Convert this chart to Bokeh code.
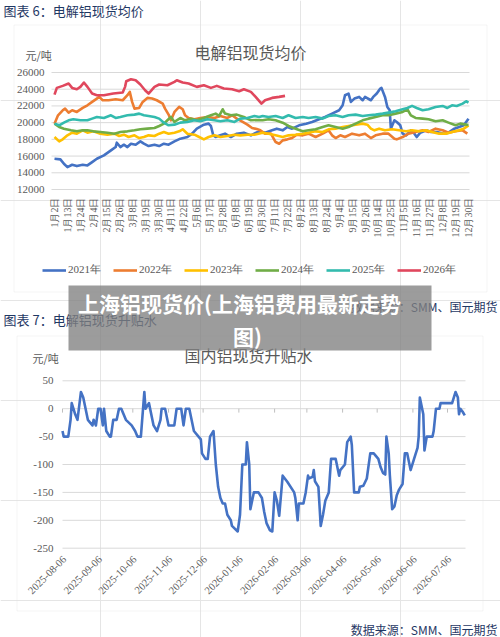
import math
from datetime import date
from bokeh.plotting import figure
from bokeh.models import Label, BoxAnnotation, Legend, LegendItem, Range1d
from bokeh.embed import file_html
from bokeh.resources import INLINE
from bokeh.core.properties import value

SERIF = "Liberation Serif"
CJK = "Noto Sans CJK SC"
GREY = "#595959"
NAVY = "#1F3864"
GRID = "#d9d9d9"

# ---------------- chart 1: 电解铝现货均价 (x = trading-day index within year) ----------------
tick_labels_1 = ["1月2日", "1月13日", "1月24日", "2月4日", "2月15日", "2月26日", "3月8日", "3月19日",
                 "3月30日", "4月11日", "4月22日", "5月6日", "5月17日", "5月28日", "6月8日", "6月19日",
                 "6月30日", "7月11日", "7月22日", "8月2日", "8月13日", "8月24日", "9月4日", "9月15日",
                 "9月26日", "10月14日", "10月25日", "11月5日", "11月16日", "11月27日", "12月8日",
                 "12月19日", "12月30日"]
tick_step_1 = 11
years = ["2021年", "2022年", "2023年", "2024年", "2025年", "2026年"]
colors = ["#4472C4", "#ED7D31", "#FFC000", "#70AD47", "#33BBAE", "#E0475D"]

x2021 = [0, 5, 8, 11, 15, 19, 24, 28, 32, 36, 42, 48, 52, 53, 56, 59, 62, 65, 69, 73, 76, 80, 85, 89,
         93, 97, 102, 107, 113, 117, 121, 127, 131, 133, 135, 137, 141, 145, 150, 155, 161, 167, 172,
         179, 185, 189, 194, 198, 202, 208, 214, 219, 225, 230, 236, 242, 245, 247, 250, 252, 255, 259,
         262, 264, 269, 271, 274, 277, 278, 281, 283, 285, 286, 289, 291, 294, 296, 299, 303, 306, 308,
         311, 316, 320, 325, 331, 335, 340, 344, 348, 352]
y2021 = [15680, 15600, 15080, 14680, 14960, 14800, 14960, 14880, 15280, 15680, 16080, 16680, 17080,
         17600, 17080, 17360, 17080, 17480, 17360, 17760, 17480, 17200, 17360, 17200, 17480, 17360,
         17760, 18080, 18280, 18680, 19280, 19760, 19880, 19600, 18480, 18280, 18480, 18680, 18280,
         18680, 18800, 18480, 18840, 18800, 19080, 19280, 19080, 19480, 19280, 19680, 19880, 20080,
         20400, 20680, 21080, 21480, 22080, 23280, 23480, 22480, 22880, 23080, 22680, 23080, 22680,
         23080, 23480, 24080, 24160, 23080, 21880, 21480, 19280, 20280, 20080, 19680, 18680, 18480,
         19080, 18680, 18280, 18800, 19080, 18880, 18880, 18680, 18800, 19280, 19480, 19680, 20480]

x2022 = [0, 3, 7, 9, 12, 15, 19, 24, 28, 32, 36, 38, 41, 46, 52, 58, 62, 64, 66, 68, 72, 75, 79, 83,
         87, 92, 94, 97, 99, 102, 106, 109, 111, 114, 119, 124, 130, 136, 141, 147, 151, 155, 160, 164,
         168, 172, 175, 179, 184, 188, 191, 194, 198, 202, 206, 211, 216, 222, 228, 233, 236, 239, 243,
         247, 253, 259, 264, 269, 273, 279, 284, 289, 291, 296, 301, 307, 313, 318, 324, 330, 335, 341,
         347, 351]
y2022 = [19880, 20880, 21480, 21680, 21200, 21480, 21280, 21760, 22080, 22480, 22880, 23080, 22680,
         22680, 22800, 22680, 23280, 23680, 22480, 21680, 21760, 22480, 22960, 22880, 22680, 22280,
         21680, 20960, 20280, 21280, 21880, 21600, 20880, 20560, 20400, 20560, 20680, 20560, 20800,
         20560, 20880, 20480, 20080, 19760, 19360, 19240, 19080, 18680, 18680, 17680, 17480, 17880,
         18000, 18160, 18560, 18480, 18680, 18280, 18680, 19080, 18480, 18160, 18480, 18280, 18680,
         18480, 18680, 18160, 18480, 18680, 18680, 18080, 18000, 18280, 18680, 18880, 19080, 18880,
         19280, 19080, 18800, 18960, 19080, 18680]

x2023 = [0, 4, 7, 11, 15, 19, 24, 28, 33, 39, 45, 51, 55, 59, 63, 68, 72, 76, 80, 85, 89, 93, 97, 102,
         106, 109, 113, 119, 123, 127, 131, 136, 141, 147, 153, 158, 164, 170, 177, 182, 188, 194, 199,
         205, 211, 216, 222, 228, 233, 239, 245, 250, 256, 262, 266, 269, 272, 276, 281, 287, 293, 299,
         304, 310, 316, 321, 327, 333, 338, 344, 348, 352]
y2023 = [18280, 17760, 18000, 18480, 18800, 18680, 19080, 18800, 18960, 18680, 18560, 18680, 18400,
         18560, 18280, 18480, 18160, 18280, 18480, 18400, 18680, 18880, 18680, 18800, 18960, 19200,
         18680, 18560, 18280, 18000, 18280, 18480, 18280, 18400, 18560, 18480, 18560, 18560, 18800,
         18680, 18480, 18280, 18480, 18560, 18680, 18800, 18960, 18880, 19200, 19280, 19480, 19600,
         19760, 19880, 19760, 19280, 19080, 19280, 19080, 19200, 19080, 18960, 19080, 18960, 19080,
         18880, 18680, 18680, 18880, 19080, 19280, 19680]

x2024 = [0, 4, 8, 14, 19, 24, 28, 33, 39, 45, 51, 56, 62, 68, 73, 79, 85, 89, 93, 96, 99, 102, 104,
         107, 111, 116, 121, 127, 133, 137, 140, 143, 145, 150, 155, 161, 167, 172, 177, 182, 188, 194,
         199, 205, 211, 216, 222, 228, 233, 239, 245, 250, 256, 262, 267, 273, 279, 284, 290, 296, 300,
         303, 307, 313, 318, 324, 330, 335, 341, 345, 350, 352]
y2024 = [19880, 19480, 19280, 19080, 18960, 19080, 19080, 18960, 18880, 18800, 18680, 18880, 18960,
         19080, 19200, 19280, 19360, 19600, 19880, 20280, 20680, 20080, 20280, 20560, 20280, 20480,
         20280, 20560, 20880, 21080, 20800, 21600, 21080, 20880, 20960, 20680, 20280, 20320, 20280,
         20400, 20280, 20000, 19600, 19280, 18960, 19080, 19200, 19480, 19680, 19480, 19280, 19480,
         19880, 20280, 20480, 20680, 20880, 20880, 21080, 21280, 21600, 20880, 20560, 20480, 20400,
         20160, 20280, 20000, 19680, 19880, 19760, 19720]

x2025 = [0, 4, 8, 12, 16, 22, 28, 32, 36, 42, 48, 52, 56, 62, 68, 72, 76, 80, 85, 89, 93, 97, 102,
         107, 113, 119, 124, 130, 136, 141, 147, 153, 158, 164, 170, 174, 177, 182, 188, 194, 199, 205,
         211, 216, 222, 228, 233, 239, 245, 250, 256, 262, 267, 273, 279, 284, 290, 296, 300, 304, 308,
         313, 318, 324, 330, 334, 338, 342, 347, 350, 352]
y2025 = [19880, 19680, 20000, 20280, 20400, 20280, 20280, 20480, 20680, 20560, 20880, 20560, 20680,
         20880, 20960, 21080, 20880, 20800, 20680, 20480, 20000, 19680, 19760, 20000, 20080, 20280,
         20160, 20400, 20280, 20160, 20280, 20080, 20480, 20560, 20800, 20680, 20800, 20680, 20800,
         20560, 20880, 20560, 20680, 20560, 20680, 20480, 20800, 20880, 20680, 20880, 20960, 20800,
         20880, 20960, 21080, 21200, 21360, 21600, 21760, 22000, 21760, 21480, 21600, 21880, 22000,
         21760, 22080, 22000, 22280, 22560, 22400]

x2026 = [0, 2, 7, 12, 15, 19, 22, 25, 28, 32, 36, 42, 50, 58, 60, 61, 65, 69, 73, 77, 80, 85, 89, 96,
         102, 104, 109, 114, 121, 127, 133, 138, 144, 151, 157, 161, 167, 171, 176, 179, 185, 191, 196]
y2026 = [23360, 24160, 24400, 24680, 24160, 24000, 24280, 24800, 24280, 23480, 23280, 23280, 23480,
         23600, 24280, 24960, 25200, 25080, 24560, 23880, 23480, 24280, 24560, 24480, 24880, 25080,
         24800, 24680, 24280, 24480, 24160, 24400, 24080, 24000, 23760, 24000, 23680, 23080, 22280,
         22680, 22960, 23080, 23200]

y_ticks_1 = [12000, 14000, 16000, 18000, 20000, 22000, 24000, 26000]

# ---------------- chart 2: 国内铝现货升贴水 (x = days since 2025-08-06) ----------------
start_2 = "2025-08-06"
tick_dates_2 = ["2025-08-06", "2025-09-06", "2025-10-06", "2025-11-06", "2025-12-06", "2026-01-06",
                "2026-02-06", "2026-03-06", "2026-04-06", "2026-05-06", "2026-06-06", "2026-07-06"]
disc_day = [0, 1, 5, 7, 8, 11, 13, 16, 18, 22,
            26, 27, 29, 31, 33, 35, 36, 38, 41, 42,
            44, 47, 49, 51, 53, 55, 60, 63, 65, 68,
            71, 72, 75, 79, 82, 85, 86, 89, 92, 97,
            99, 103, 105, 107, 110, 114, 118, 120, 121, 124,
            126, 128, 131, 133, 135, 137, 139, 141, 143, 146,
            147, 152, 154, 156, 159, 160, 162, 163, 166, 170,
            173, 175, 177, 180, 182, 184, 186, 188, 191, 195,
            201, 202, 204, 205, 209, 211, 213, 214, 217, 218,
            219, 222, 224, 226, 228, 231, 233, 237, 240, 241,
            245, 247, 250, 251, 253, 257, 258, 261, 264, 267,
            270, 272, 274, 276, 278, 280, 281, 283, 284, 286,
            288, 290, 292, 295, 297, 299, 302, 305, 308, 309,
            310, 313, 314, 316, 321, 322, 324, 327, 328, 338,
            341, 343, 344, 345, 347, 349]
disc_val = [-40, -50, -50, -20, 10, -10, -20, 30, 20, -20,
            -30, -20, -30, 0, 0, -30, 0, -40, -50, -50,
            -20, -20, 0, 0, -10, -20, -30, -40, -50, -50,
            30, 0, 10, -30, -40, -20, 0, 0, -30, -30,
            0, 0, -30, 0, 0, -40, -50, -55, -80, -90,
            -90, -50, -40, -100, -140, -160, -170, -170, -190, -200,
            -210, -220, -190, -100, -100, -60, -100, -180, -150, -150,
            -160, -185, -205, -218, -220, -150, -165, -192, -120, -131,
            -150, -160, -200, -170, -170, -150, -120, -125, -122, -110,
            -130, -140, -210, -190, -165, -150, -90, -90, -120, -110,
            -100, -60, -50, -65, -150, -150, -140, -138, -125, -80,
            -80, -85, -90, -105, -115, -118, -50, -80, -120, -180,
            -175, -155, -145, -135, -80, -80, -110, -90, -70, -50,
            20, -10, -75, -50, -50, -40, 0, 0, 10, 10,
            30, 20, -10, 0, -5, -12]
y_ticks_2 = [-250, -200, -150, -100, -50, 0, 50]

# ---------------- page layout (pixels, y downward) ----------------
W, H = 500, 637
# chart 1 plot area and where two reference values sit
C1_L, C1_R = 51, 469
C1_X = ((0, 54), (352, 468))          # (value, pixel)
C1_Y = ((26000, 72), (12000, 189))
# chart 2
C2_L, C2_R = 62, 465
C2_X = ((0, 62), (334, 447))
C2_Y = ((50, 380.3), (-250, 547.7))


def rng(ref, total, flip):
    (v0, p0), (v1, p1) = ref
    k = (v1 - v0) / (p1 - p0)
    at = lambda P: v0 + (P - p0) * k
    return Range1d(at(total), at(0)) if flip else Range1d(at(0), at(total))


p = figure(width=W, height=H, output_backend="svg", toolbar_location=None, title=None,
           x_range=Range1d(0, W), y_range=Range1d(H, 0),
           x_axis_location=None, y_axis_location=None, min_border=0)
p.outline_line_color = None
p.background_fill_color = "white"
p.border_fill_color = "white"
p.extra_x_ranges = {"c1x": rng(C1_X, W, False), "c2x": rng(C2_X, W, False)}
p.extra_y_ranges = {"c1y": rng(C1_Y, H, True), "c2y": rng(C2_Y, H, True)}


def lab(X, Y, text, size, color=GREY, font=CJK, align="left", style="normal"):
    p.add_layout(Label(x=X, y=Y, text=text, text_font=font, text_font_size=size,
                       text_color=color, text_align=align, text_baseline="middle",
                       text_font_style=style))


def box(L, R, T, B, fill=None, alpha=0.0, line=GRID):
    p.add_layout(BoxAnnotation(left=L, right=R, top=T, bottom=B, fill_color=fill,
                               fill_alpha=alpha, line_color=line, line_width=1))


# ----- chart 1 frame, titles -----
box(13.5, 486.5, 24.5, 291.5)
lab(3, 10, "图表 6：电解铝现货均价", "13px", color=NAVY)
lab(250, 51.5, "电解铝现货均价", "16px", align="center")
lab(25, 54, "元/吨", "11px")

# gridlines + y labels (chart 1)
n1 = len(y_ticks_1)
p.segment(x0=[C1_L] * n1, x1=[C1_R] * n1, y0=y_ticks_1, y1=y_ticks_1, y_range_name="c1y",
          line_color=GRID, line_width=1)
p.text(x=[C1_L] * n1, y=y_ticks_1, text=[str(v) for v in y_ticks_1], y_range_name="c1y",
       x_offset=-7, text_align="right", text_baseline="middle", text_font=value(SERIF),
       text_font_size="11px", text_color=GREY)
# x labels (chart 1), vertical
tick_pos_1 = [k * tick_step_1 for k in range(len(tick_labels_1))]
p.text(x=tick_pos_1, y=[197] * len(tick_pos_1), text=tick_labels_1, x_range_name="c1x",
       angle=math.pi / 2, text_align="right", text_baseline="middle", text_font=value(SERIF),
       text_font_size="10px", text_color=GREY)

items = []
for name, col, xs, ys in zip(years, colors, [x2021, x2022, x2023, x2024, x2025, x2026],
                             [y2021, y2022, y2023, y2024, y2025, y2026]):
    r = p.line(xs, ys, x_range_name="c1x", y_range_name="c1y", line_color=col, line_width=2.6,
               line_join="round")
    items.append(LegendItem(label=name, renderers=[r]))

leg = Legend(items=items, orientation="horizontal", location=(42, H - 277.5),
             glyph_width=24, glyph_height=16, label_height=16, label_standoff=2, spacing=12,
             padding=0, margin=0, border_line_alpha=0, background_fill_alpha=0,
             label_text_font=SERIF, label_text_font_size="11px", label_text_color=GREY)
p.add_layout(leg)

# ----- chart 2 -----
d0 = date.fromisoformat(start_2)
tick_pos_2 = [(date.fromisoformat(s) - d0).days for s in tick_dates_2]
n2 = len(y_ticks_2)
p.segment(x0=[C2_L] * n2, x1=[C2_R] * n2, y0=y_ticks_2, y1=y_ticks_2, y_range_name="c2y",
          line_color=GRID, line_width=1)
p.text(x=[C2_L] * n2, y=y_ticks_2, text=[str(v) for v in y_ticks_2], y_range_name="c2y",
       x_offset=-9, text_align="right", text_baseline="middle", text_font=value(SERIF),
       text_font_size="11px", text_color=GREY)
# small tick marks on the zero line
p.segment(x0=tick_pos_2, y0=[0] * len(tick_pos_2), x1=tick_pos_2, y1=[-7] * len(tick_pos_2),
          x_range_name="c2x", y_range_name="c2y", line_color="#bfbfbf", line_width=1)
# date labels, 45 degrees
p.text(x=tick_pos_2, y=[557] * len(tick_pos_2), text=tick_dates_2, x_range_name="c2x",
       x_offset=2, angle=math.pi / 4, text_align="right", text_baseline="middle",
       text_font=value(SERIF), text_font_size="10.5px", text_color=GREY)
p.line(disc_day, disc_val, x_range_name="c2x", y_range_name="c2y", line_color="#4472C4",
       line_width=2.6, line_join="round")

box(16.5, 482.5, 335.5, 610.5)
lab(497, 306, "数据来源：SMM、国元期货", "12px", color=NAVY, align="right")
lab(3, 318.5, "图表 7：电解铝现货升贴水", "13px", color=NAVY)
lab(248, 354, "国内铝现货升贴水", "16px", align="center")
lab(32, 357, "元/吨", "11px")
lab(497, 629, "数据来源：SMM、国元期货", "12px", color=NAVY, align="right")

# ----- overlay banner -----
box(68, 431, 285, 350, fill="#808080", alpha=0.78, line=None)
lab(239, 302, "上海铝现货价(上海铝费用最新走势", "21px", color="white", align="center", style="bold")
lab(247, 335, "图)", "21px", color="white", align="center", style="bold")

open("out.html", "w").write(file_html(p, INLINE))
